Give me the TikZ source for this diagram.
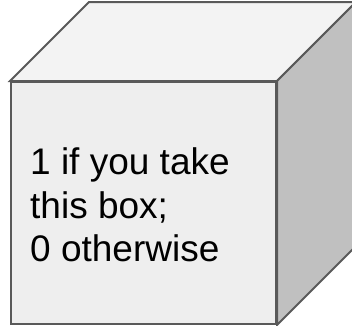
\documentclass[tikz,border=0pt]{standalone}
\usepackage{fontspec}
\setmainfont{Liberation Sans}
\usetikzlibrary{calc}

\definecolor{edgegray}{HTML}{595959}
\definecolor{frontgray}{HTML}{EEEEEE}
\definecolor{topgray}{HTML}{F3F3F3}
\definecolor{sidegray}{HTML}{C0C0C0}

\begin{document}
\begin{tikzpicture}[
  x=1pt, y=-1pt,
  face/.style={
    draw=edgegray,
    fill=#1,
    line width=2pt,
    line join=miter
  },
  face/.default=frontgray,
  front/.style={
    face,
    minimum width=265pt,
    minimum height=242pt
  },
  caption/.style={
    anchor=west,
    align=left,
    inner sep=0pt,
    font=\fontsize{37}{43.5}\selectfont
  },
]

% Canvas.
\useasboundingbox (0,0) rectangle (352,325);
\clip (0,0) rectangle (352,325);

% Front face and its text.
\node[front] (box) at (143.5,203) {};
\node[caption] (txt) at ($(box.west)+(20,2)$) {1 if you take\\this box;\\0 otherwise};

% Depth of the cube.
\coordinate (depth) at (79,-79);

% Top and right faces.
\draw[face=topgray] (box.north west) -- ($(box.north west)+(depth)$)
  -- ($(box.north east)+(depth)$) -- (box.north east) -- cycle;
\draw[face=sidegray] (box.north east) -- ($(box.north east)+(depth)$)
  -- ($(box.south east)+(depth)$) -- (box.south east) -- cycle;

\end{tikzpicture}
\end{document}
